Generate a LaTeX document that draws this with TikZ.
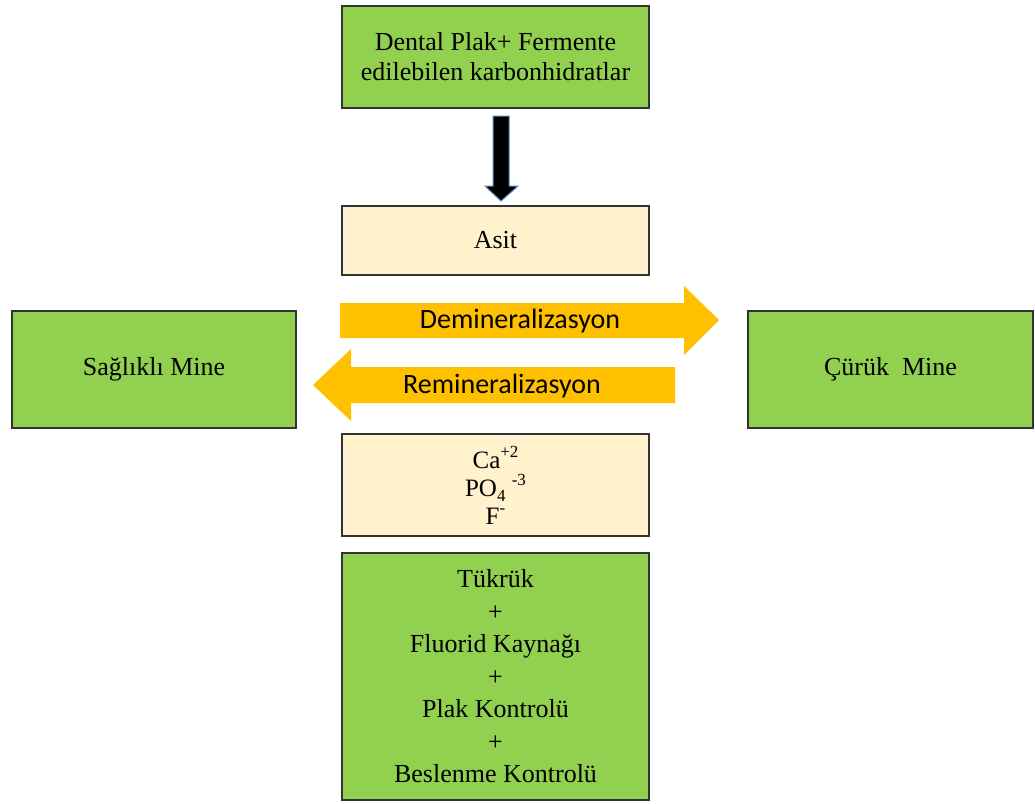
\documentclass[tikz,border=0pt]{standalone}
\usepackage{fontspec}
\setmainfont{Liberation Serif}
\newfontfamily\calfont{Carlito}
\definecolor{boxgreen}{HTML}{92D050}
\definecolor{boxcream}{HTML}{FFF2CC}
\definecolor{arrorange}{HTML}{FFC000}
\definecolor{edgegray}{HTML}{333333}
\definecolor{glowblue}{HTML}{5B84B8}
\newcommand{\mysup}[1]{\raisebox{0.45em}{\fontsize{17}{17}\selectfont #1}}
\newcommand{\mysub}[1]{\raisebox{-0.2em}{\fontsize{17}{17}\selectfont #1}}
\newcommand{\ionfont}{\fontsize{25}{28}\selectfont\lineskiplimit=-20pt\relax}
\tikzset{
  greenbox/.style={draw=edgegray, line width=1.5pt, fill=boxgreen, inner sep=0pt, align=center, font=\fontsize{26}{30}\selectfont},
  creambox/.style={draw=edgegray, line width=1.5pt, fill=boxcream, inner sep=0pt, align=center, font=\fontsize{26}{28}\selectfont},
  blockarrow/.style={fill=arrorange, draw=none},
  arrlabel/.style={font=\calfont\fontsize{28}{30}\selectfont, inner sep=0pt}
}
\begin{document}
\begin{tikzpicture}[x=1pt,y=-1pt]
\useasboundingbox (0,0) rectangle (1035,803);
% boxes
\node[greenbox, minimum width=307pt, minimum height=102pt] (top) at (495.5,57) {Dental Plak+ Fermente\\edilebilen karbonhidratlar};
\node[creambox, minimum width=307pt, minimum height=69pt] (asit) at (495.5,240.5) {Asit};
\node[greenbox, minimum width=284pt, minimum height=117pt] (saglikli) at (154,369.5) {Sağlıklı Mine};
\node[greenbox, minimum width=285pt, minimum height=117pt] (curuk) at (890.5,369.5) {Çürük\ \ Mine};
\node[creambox, minimum width=307pt, minimum height=102pt, font=\ionfont] (ions) at (495.5,485) {Ca\mysup{+2}\\PO\mysub{4} \mysup{-3}\\F\mysup{-}};
\node[greenbox, minimum width=307pt, minimum height=247pt, font=\fontsize{26}{32.5}\selectfont] (bottom) at (495.5,676.5) {Tükrük\\+\\Fluorid Kaynağı\\+\\Plak Kontrolü\\+\\Beslenme Kontrolü};
% black down arrow
\draw[fill=black, draw=glowblue, line width=1pt]
  (493,116) -- (509,116) -- (509,186) -- (518,186) -- (501,201) -- (485,186) -- (493,186) -- cycle;
% demineralization arrow
\fill[blockarrow] (340,303) -- (684,303) -- (684,286) -- (719,320) -- (684,355) -- (684,338) -- (340,338) -- cycle;
\node[arrlabel] (demin) at (520,321) {Demineralizasyon};
% remineralization arrow
\fill[blockarrow] (675,367) -- (351,367) -- (351,349) -- (313,385) -- (351,421) -- (351,403) -- (675,403) -- cycle;
\node[arrlabel] (remin) at (502,386) {Remineralizasyon};
\end{tikzpicture}
\end{document}
